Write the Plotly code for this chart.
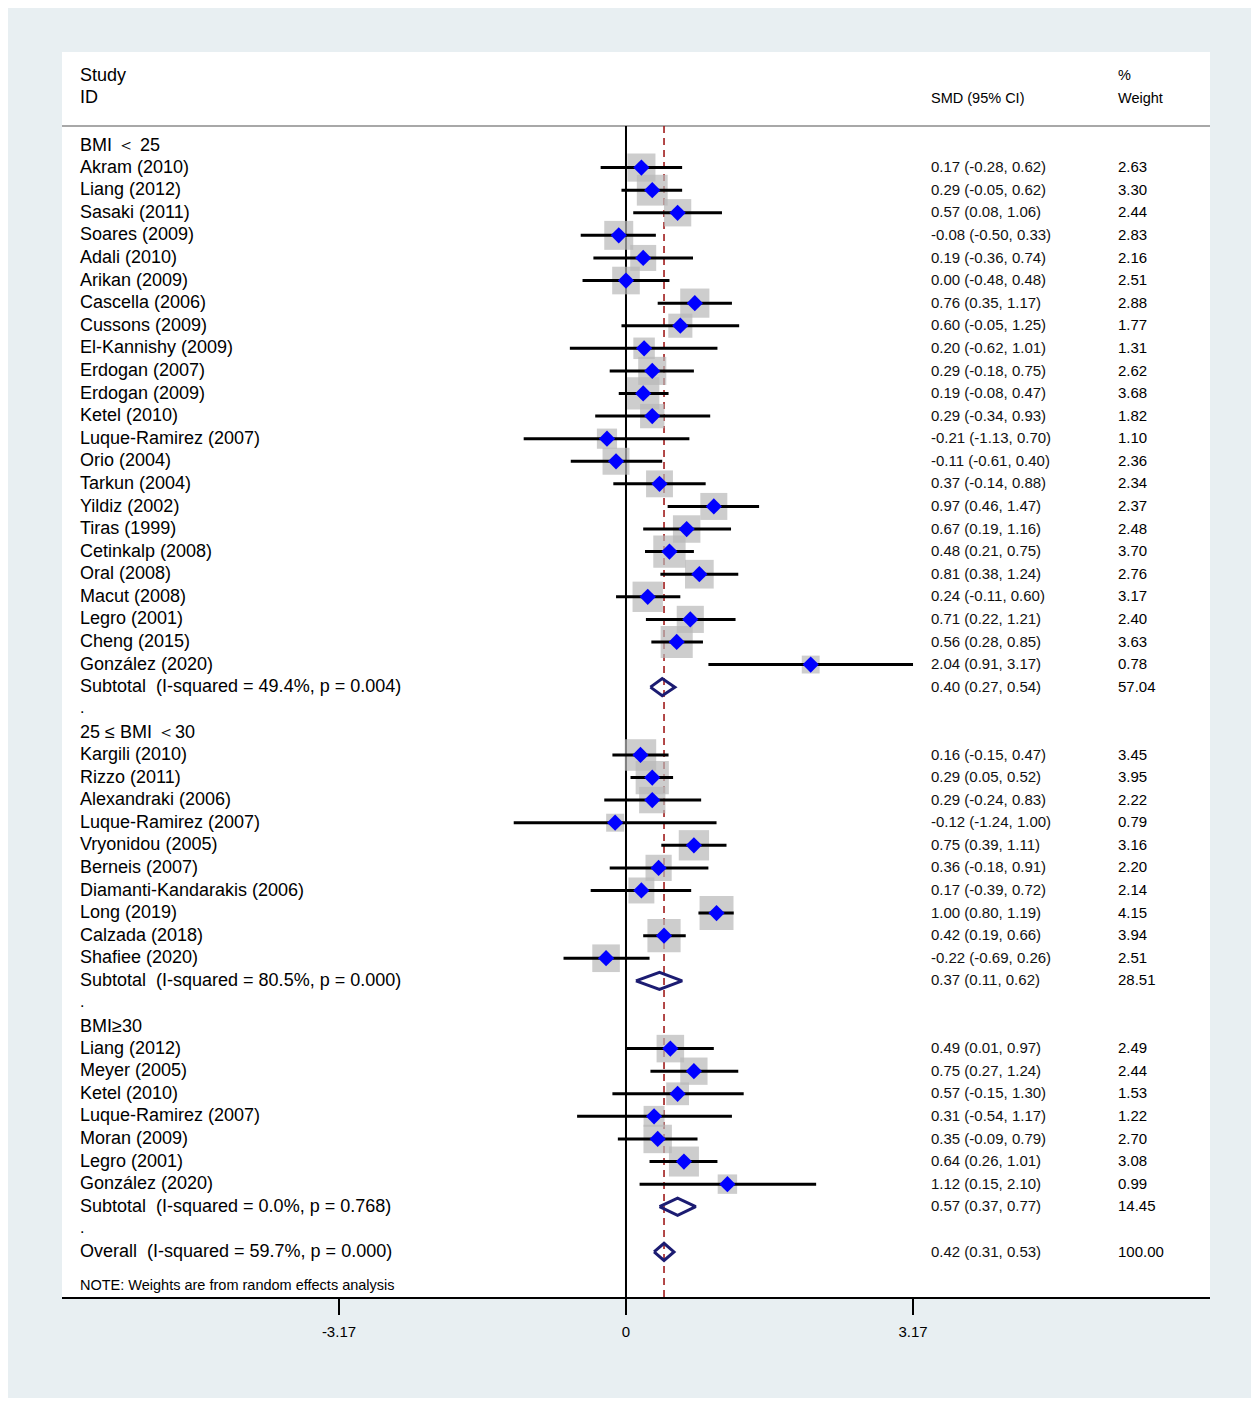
import math
import plotly.graph_objects as go

# ---------------- data ----------------
g1_names = ["Akram (2010)", "Liang (2012)", "Sasaki (2011)", "Soares (2009)", "Adali (2010)",
            "Arikan (2009)", "Cascella (2006)", "Cussons (2009)", "El-Kannishy (2009)",
            "Erdogan (2007)", "Erdogan (2009)", "Ketel (2010)", "Luque-Ramirez (2007)",
            "Orio (2004)", "Tarkun (2004)", "Yildiz (2002)", "Tiras (1999)", "Cetinkalp (2008)",
            "Oral (2008)", "Macut (2008)", "Legro (2001)", "Cheng (2015)", "González (2020)"]
g1_smd = [0.17, 0.29, 0.57, -0.08, 0.19, 0.00, 0.76, 0.60, 0.20, 0.29, 0.19, 0.29, -0.21,
          -0.11, 0.37, 0.97, 0.67, 0.48, 0.81, 0.24, 0.71, 0.56, 2.04]
g1_lo = [-0.28, -0.05, 0.08, -0.50, -0.36, -0.48, 0.35, -0.05, -0.62, -0.18, -0.08, -0.34,
         -1.13, -0.61, -0.14, 0.46, 0.19, 0.21, 0.38, -0.11, 0.22, 0.28, 0.91]
g1_hi = [0.62, 0.62, 1.06, 0.33, 0.74, 0.48, 1.17, 1.25, 1.01, 0.75, 0.47, 0.93, 0.70, 0.40,
         0.88, 1.47, 1.16, 0.75, 1.24, 0.60, 1.21, 0.85, 3.17]
g1_wt = [2.63, 3.30, 2.44, 2.83, 2.16, 2.51, 2.88, 1.77, 1.31, 2.62, 3.68, 1.82, 1.10, 2.36,
         2.34, 2.37, 2.48, 3.70, 2.76, 3.17, 2.40, 3.63, 0.78]

g2_names = ["Kargili (2010)", "Rizzo (2011)", "Alexandraki (2006)", "Luque-Ramirez (2007)",
            "Vryonidou (2005)", "Berneis (2007)", "Diamanti-Kandarakis (2006)", "Long (2019)",
            "Calzada (2018)", "Shafiee (2020)"]
g2_smd = [0.16, 0.29, 0.29, -0.12, 0.75, 0.36, 0.17, 1.00, 0.42, -0.22]
g2_lo = [-0.15, 0.05, -0.24, -1.24, 0.39, -0.18, -0.39, 0.80, 0.19, -0.69]
g2_hi = [0.47, 0.52, 0.83, 1.00, 1.11, 0.91, 0.72, 1.19, 0.66, 0.26]
g2_wt = [3.45, 3.95, 2.22, 0.79, 3.16, 2.20, 2.14, 4.15, 3.94, 2.51]

g3_names = ["Liang (2012)", "Meyer (2005)", "Ketel (2010)", "Luque-Ramirez (2007)",
            "Moran (2009)", "Legro (2001)", "González (2020)"]
g3_smd = [0.49, 0.75, 0.57, 0.31, 0.35, 0.64, 1.12]
g3_lo = [0.01, 0.27, -0.15, -0.54, -0.09, 0.26, 0.15]
g3_hi = [0.97, 1.24, 1.30, 1.17, 0.79, 1.01, 2.10]
g3_wt = [2.49, 2.44, 1.53, 1.22, 2.70, 3.08, 0.99]

group_labels = ["BMI ＜ 25", "25 ≤ BMI ＜30", "BMI≥30"]
sub_labels = ["Subtotal  (I-squared = 49.4%, p = 0.004)",
              "Subtotal  (I-squared = 80.5%, p = 0.000)",
              "Subtotal  (I-squared = 0.0%, p = 0.768)"]
sub_smd = [0.40, 0.37, 0.57]
sub_lo = [0.27, 0.11, 0.37]
sub_hi = [0.54, 0.62, 0.77]
sub_wt = [57.04, 28.51, 14.45]

overall_label = "Overall  (I-squared = 59.7%, p = 0.000)"
overall_smd = 0.42
overall_lo = 0.31
overall_hi = 0.53
overall_wt = 100.00

note_text = "NOTE: Weights are from random effects analysis"
tick_vals = [-3.17, 0, 3.17]
tick_text = ["-3.17", "0", "3.17"]

# ---------------- layout constants ----------------
# the page places the figure 8px from the top-left corner
OFF = 8
W, H = 1259 - OFF, 1403 - OFF
ML, MR, MT, MB = 62 - OFF, 49, 52 - OFF, 106
PW, PH = W - ML - MR, H - MT - MB
X_RANGE = [-6.229, 6.450]
Y_RANGE = [50.996, -4.117]
FONT = "Liberation Sans, Arial, sans-serif"
LAB_X = -6.05
SMD_X = 3.35
WT_X = 5.41
DIAM_H = 0.38

groups = [
    (g1_names, g1_smd, g1_lo, g1_hi, g1_wt),
    (g2_names, g2_smd, g2_lo, g2_hi, g2_wt),
    (g3_names, g3_smd, g3_lo, g3_hi, g3_wt),
]

def nb(s):
    return s.replace("  ", "\u00a0\u00a0")

annotations = []

def add_text(x, y, text, size, anchor="left", color="#000"):
    annotations.append(dict(x=x, y=y, xref="x", yref="y", text=text, showarrow=False,
                            xanchor=anchor, yanchor="middle",
                            font=dict(family=FONT, size=size, color=color)))

st_row, st_smd, st_lo, st_hi, st_wt = [], [], [], [], []
sb_row = []
row = 0
for gi, (names, smd, lo, hi, wt) in enumerate(groups):
    add_text(LAB_X, row, group_labels[gi], 18)
    row += 1
    for n, e, l, h, w in zip(names, smd, lo, hi, wt):
        add_text(LAB_X, row - 0.04, n, 18)
        add_text(SMD_X, row - 0.04, f"{e:.2f} ({l:.2f}, {h:.2f})", 15, color="#111")
        add_text(WT_X, row - 0.04, f"{w:.2f}", 15)
        st_row.append(row); st_smd.append(e); st_lo.append(l); st_hi.append(h); st_wt.append(w)
        row += 1
    add_text(LAB_X, row - 0.04, nb(sub_labels[gi]), 18)
    add_text(SMD_X, row - 0.04, f"{sub_smd[gi]:.2f} ({sub_lo[gi]:.2f}, {sub_hi[gi]:.2f})", 15, color="#111")
    add_text(WT_X, row - 0.04, f"{sub_wt[gi]:.2f}", 15)
    sb_row.append(row)
    row += 1
    add_text(LAB_X, row - 0.1, ".", 16)
    row += 1
ov_row = row
add_text(LAB_X, ov_row - 0.04, nb(overall_label), 18)
add_text(SMD_X, ov_row - 0.04, f"{overall_smd:.2f} ({overall_lo:.2f}, {overall_hi:.2f})", 15, color="#111")
add_text(WT_X, ov_row - 0.04, f"{overall_wt:.2f}", 15)
add_text(LAB_X, ov_row + 1.47, note_text, 14.5)

# header
add_text(LAB_X, -3.10, "Study", 18)
add_text(LAB_X, -2.12, "ID", 18)
add_text(SMD_X, -2.08, "SMD (95% CI)", 14.5)
add_text(WT_X, -3.10, "%", 14.5)
add_text(WT_X, -2.08, "Weight", 14.5)

fig = go.Figure()

# weight boxes
box_sizes = [5.6 + 13.9 * math.sqrt(w) for w in st_wt]
fig.add_trace(go.Scatter(x=st_smd, y=st_row, mode="markers",
                         marker=dict(symbol="square", size=box_sizes, color="#b8b8b8",
                                     line=dict(width=0)),
                         hoverinfo="skip", showlegend=False))

# CI lines
cx, cy = [], []
for r, l, h in zip(st_row, st_lo, st_hi):
    cx += [l, h, None]
    cy += [r, r, None]
fig.add_trace(go.Scatter(x=cx, y=cy, mode="lines", line=dict(color="black", width=3),
                         hoverinfo="skip", showlegend=False))

# point estimates
fig.add_trace(go.Scatter(x=st_smd, y=st_row, mode="markers",
                         marker=dict(symbol="diamond", size=12.5, color="#0000ff",
                                     line=dict(width=0)),
                         hoverinfo="skip", showlegend=False))

# pooled diamonds
dx, dy = [], []
for r, e, l, h in zip(sb_row + [ov_row], sub_smd + [overall_smd], sub_lo + [overall_lo],
                      sub_hi + [overall_hi]):
    dx += [l, e, h, e, l, None]
    dy += [r, r - DIAM_H, r, r + DIAM_H, r, None]
fig.add_trace(go.Scatter(x=dx, y=dy, mode="lines", line=dict(color="#1c1c72", width=3),
                         hoverinfo="skip", showlegend=False))

shapes = [
    # outer background (screen px 5..1254 x 5..1398)
    dict(type="rect", xref="paper", yref="paper",
         x0=(0 - ML) / PW, x1=(1254 - OFF - ML) / PW,
         y0=(H - MB - (1398 - OFF)) / PH, y1=(H - MB - 0) / PH,
         fillcolor="#e8eff2", line=dict(width=0), layer="below"),
    # white panel
    dict(type="rect", xref="paper", yref="paper", x0=0, x1=1, y0=0, y1=1,
         fillcolor="white", line=dict(width=0), layer="below"),
    # header separator
    dict(type="line", xref="paper", yref="y", x0=0, x1=1, y0=-0.84, y1=-0.84,
         line=dict(color="#a8a8a8", width=2), layer="below"),
    # null line
    dict(type="line", xref="x", yref="y", x0=0, x1=0, y0=-0.84, y1=Y_RANGE[0],
         line=dict(color="black", width=2), layer="below"),
    # overall effect line
    dict(type="line", xref="x", yref="y", x0=overall_smd, x1=overall_smd, y0=-0.84,
         y1=Y_RANGE[0], line=dict(color="#a01c1c", width=1.6, dash="7px,5px"), layer="below"),
]

fig.update_layout(
    width=W, height=H,
    margin=dict(l=ML, r=MR, t=MT, b=MB, pad=0),
    paper_bgcolor="white", plot_bgcolor="white",
    showlegend=False,
    shapes=shapes,
    annotations=annotations,
    font=dict(family=FONT, color="black"),
    xaxis=dict(range=X_RANGE, showgrid=False, zeroline=False, showline=True,
               linecolor="black", linewidth=2, ticks="outside", ticklen=16, tickwidth=2,
               tickcolor="black", tickvals=tick_vals, ticktext=tick_text,
               tickfont=dict(family=FONT, size=15, color="black"),
               ticklabelstandoff=4, fixedrange=True),
    yaxis=dict(range=Y_RANGE, showgrid=False, zeroline=False, showline=False,
               showticklabels=False, ticks="", fixedrange=True),
)

fig.write_html("out.html")
